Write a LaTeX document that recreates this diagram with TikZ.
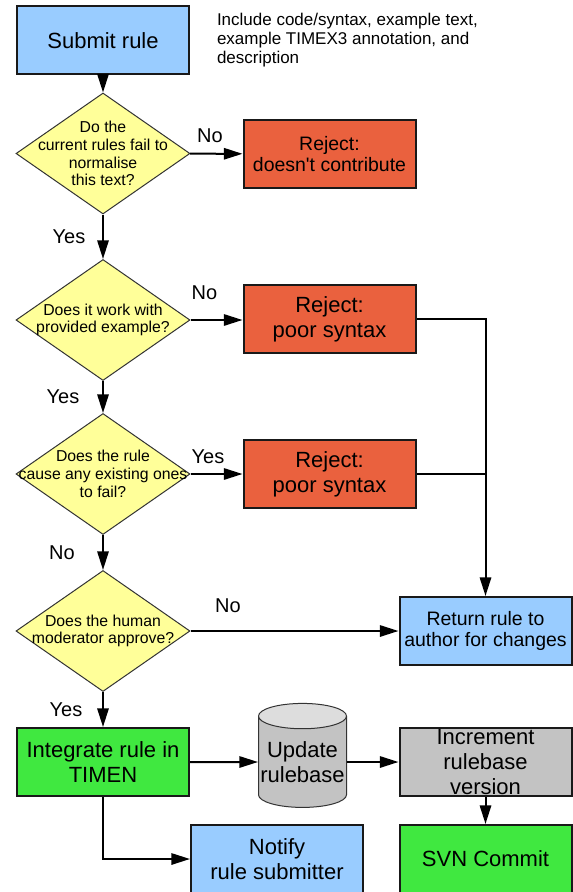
\documentclass[tikz,border=0pt]{standalone}
\usepackage{fontspec}
\setmainfont{Liberation Sans}
\usepackage{xcolor}
\usepackage{tikz}
\usetikzlibrary{shapes.geometric,arrows.meta}

\definecolor{ruleblue}{HTML}{99CCFF}
\definecolor{rejectred}{HTML}{EA613E}
\definecolor{askyellow}{HTML}{FFFF99}
\definecolor{okgreen}{HTML}{40E840}
\definecolor{dbgrey}{HTML}{C3C3C3}
\definecolor{dbtop}{HTML}{DDDDDD}

\begin{document}
\begin{tikzpicture}[x=0.75pt, y=-0.75pt, line width=1.5pt, >={Triangle[length=14pt,width=8.5pt]}]
    % Define styles
    \tikzstyle{box} = [rectangle, draw=black!90, line width=1.5pt, minimum width=129pt, minimum height=51pt, inner sep=0pt, align=center, font=\fontsize{16.5}{18.75}\selectfont]
    \tikzstyle{smallbox} = [box, font=\fontsize{14.6}{15.9}\selectfont]
    \tikzstyle{decision} = [diamond, draw=black!80, line width=0.75pt, fill=askyellow, minimum width=130.5pt, minimum height=90.75pt, inner sep=0pt]
    \tikzstyle{question} = [align=center, inner sep=0pt, font=\fontsize{11.85}{13.3}\selectfont]
    \tikzstyle{answer} = [inner sep=0pt, font=\fontsize{15}{15}\selectfont]
    \tikzstyle{store} = [cylinder, shape border rotate=90, aspect=0.3, draw=black!80, line width=0.75pt, cylinder uses custom fill, cylinder body fill=dbgrey, cylinder end fill=dbtop, minimum width=66pt, minimum height=78pt, inner sep=0pt, align=center, font=\fontsize{16.5}{18.75}\selectfont]

    \useasboundingbox (0,0) rectangle (573,892);

    % Submission
    \node[box, fill=ruleblue] (submit) at (103,40.5) {Submit rule};
    \node[anchor=north west, align=left, inner sep=0pt, font=\fontsize{12.75}{14.25}\selectfont] (note) at (216,12) {Include code/syntax, example text,\\example TIMEX3 annotation, and\\description};

    % Checks
    \node[decision, label={[question]center:Do the\\current rules fail to\\normalise\\this text?}] (fails) at (103,153.5) {};
    \node[decision, label={[question]center:Does it work with\\provided example?}] (works) at (103,320) {};
    \node[decision, label={[question]center:Does the rule\\cause any existing ones\\to fail?}] (breaks) at (103,474) {};
    \node[decision, label={[question]center:Does the human\\moderator approve?}] (approve) at (103,631) {};

    % Rejections
    \node[smallbox, fill=rejectred] (nocontrib) at (329.5,154) {Reject:\\doesn\textquotesingle t contribute};
    \node[box, fill=rejectred] (syntaxa) at (329.5,319) {Reject:\\poor syntax};
    \node[box, fill=rejectred] (syntaxb) at (329.5,474) {Reject:\\poor syntax};
    \node[smallbox, fill=ruleblue] (return) at (485.5,631) {Return rule to\\author for changes};

    % Acceptance
    \node[box, fill=okgreen] (integrate) at (103,762) {Integrate rule in\\TIMEN};
    \node[store] (update) at (302.5,762) {Update\\rulebase};
    \node[box, fill=dbgrey] (increment) at (485.5,762) {Increment\\rulebase\\version};
    \node[box, fill=ruleblue] (notify) at (277,859) {Notify\\rule submitter};
    \node[box, fill=okgreen] (commit) at (485.5,859) {SVN Commit};

    % Answers
    \node[answer] (no1) at (210,136) {No};
    \node[answer] (yes1) at (69,237) {Yes};
    \node[answer] (no2) at (204.5,293) {No};
    \node[answer] (yes2) at (63,397) {Yes};
    \node[answer] (yes3) at (208,457) {Yes};
    \node[answer] (no3) at (62,553) {No};
    \node[answer] (no4) at (228,606) {No};
    \node[answer] (yes4) at (66,710) {Yes};

    % Arrows
    \draw[->] (submit) -- (fails);
    \draw[->] (fails) -- (nocontrib);
    \draw[->] (fails) -- (works);
    \draw[->] (works.east) -- (works.east -| syntaxa.west);
    \draw[->] (works) -- (breaks);
    \draw[->] (breaks) -- (syntaxb);
    \draw[->] (breaks) -- (approve);
    \draw[->] (syntaxa.east) -| (return.north);
    \draw (syntaxb.east) -- (syntaxb.east -| return.north);
    \draw[->] (approve) -- (return);
    \draw[->] (approve) -- (integrate);
    \draw[->] (integrate) -- (update);
    \draw[->] (update) -- (increment);
    \draw[->] (increment) -- (commit);
    \draw[->] (integrate.south) |- (notify.west);
\end{tikzpicture}
\end{document}
